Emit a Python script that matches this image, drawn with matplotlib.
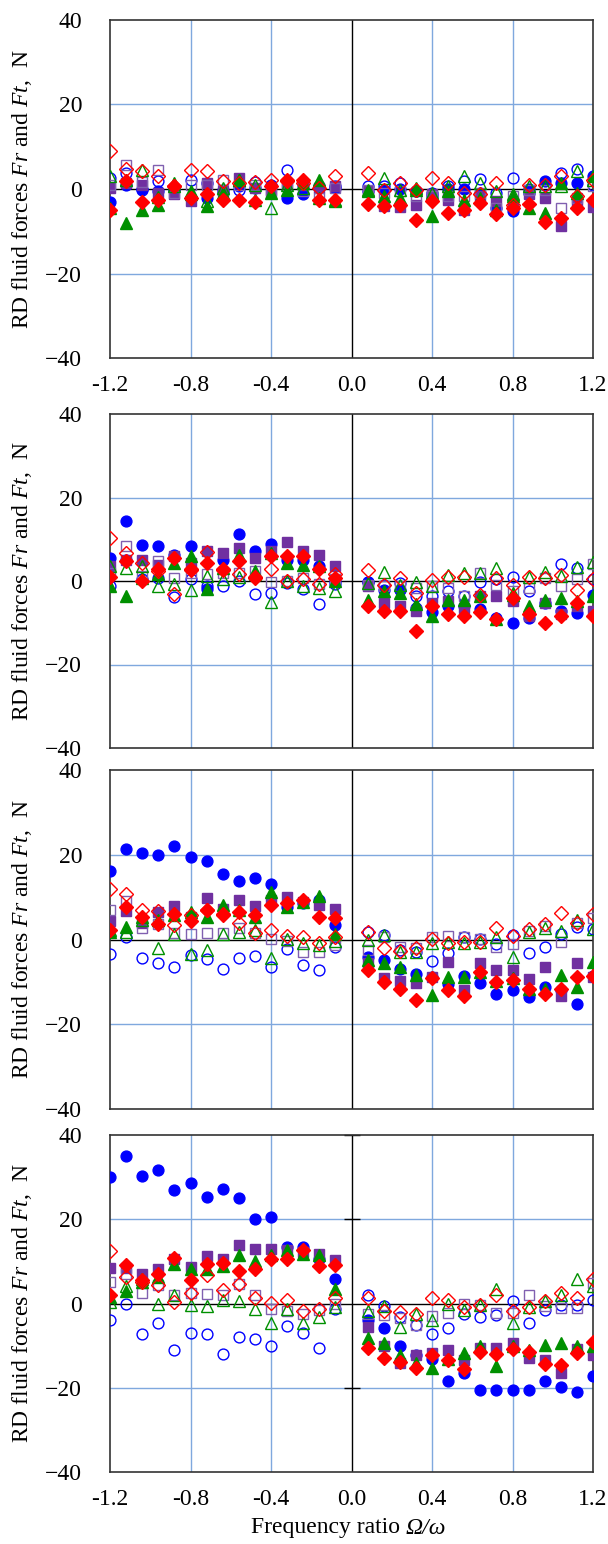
import matplotlib
matplotlib.use("Agg")
import matplotlib.pyplot as plt

plt.rcParams['font.family'] = ['Liberation Serif', 'DejaVu Serif']
plt.rcParams['mathtext.fontset'] = 'custom'
plt.rcParams['mathtext.rm'] = 'Liberation Serif'
plt.rcParams['mathtext.it'] = 'Liberation Serif:italic'

# frequency ratio (x) shared by every series
ratio = [-1.2, -1.12, -1.04, -0.96, -0.88, -0.8, -0.72, -0.64, -0.56, -0.48,
         -0.4, -0.32, -0.24, -0.16, -0.08,
         0.08, 0.16, 0.24, 0.32, 0.4, 0.48, 0.56, 0.64, 0.72, 0.8,
         0.88, 0.96, 1.04, 1.12, 1.2]

# ---- panel 1
p1_bf = [-3, 1, 0, -0.5, 0, -2.1, -2.1, -0.9, 0.8, 0.2, 0.6, -2.1, -1.3, 0.2, 0.2,
         -0.5, -0.2, 0, -0.5, -1, 0, 0, -1, -4.5, -5.3, 0, 1.8, 1.4, 1.4, 3]
p1_bo = [2.5, 3.8, -0.2, 1.8, -0.2, 2.2, 1.4, -0.2, -0.2, 1.6, 1, 4.6, 1, 0.6, 0.6,
         0.8, 0.6, 1.4, -0.5, -1.7, 0.6, 1.8, 2.4, -1, 2.6, -1, 1, 3.8, 4.7, 1]
p1_rf = [-5, 1.8, -3.1, -2.5, 0.6, -2.1, -1.3, -2.5, -2.5, -3.1, 0.6, 1.8, 2.2, -2.5, -2.5,
         -3.5, -4.1, -3.7, -7.4, -2.9, -5.7, -4.9, -3.3, -6, -4.5, -3.5, -7.9, -6.9, -4.5, -2.5]
p1_ro = [9, 4.7, 4.2, 3, 0.6, 4.4, 4.2, 1.8, 1.4, 1.6, 2.2, 2.2, 1.4, 0.2, 3.1,
         3.8, -0.2, 1.4, -0.2, 2.6, 1.4, -1, -1.3, 1.4, -3.7, 1, 1, 3, -1.7, 2.2]
p1_gf = [-4.5, -8, -4.9, -3.7, 1.4, -0.5, -4.1, -0.9, 2.2, -2.5, -0.9, -0.2, 1.4, 2.2, -2.5,
         -0.5, -1.7, -2.1, -0.2, -6.5, -0.5, -2.5, -2.1, -4.9, -1.7, -4.5, -5.7, 1.4, -1, 3]
p1_go = [3, 2.2, 4.6, -2, 0.6, -1.3, -2.9, 0.2, 2.2, 1, -4.5, 1, 0.2, -2.1, -2.9,
         -0.2, 2.6, -0.2, 0.2, -0.9, 0.6, 3, 1.4, -0.5, -1.3, 0.6, 0.6, 0.6, 4.2, 2.2]
p1_pf = [0.2, 1.4, 1, -1, -1.3, -2.9, 1.4, -0.5, 2.6, 0.2, -0.2, 1.4, 1, 0.2, 0.8,
         -0.5, -4.1, -4.3, -3.7, -1.3, -2.5, -4.9, -1.7, -2.9, -3.3, -1.3, -2.1, -8.8, -3.3, -4.3]
p1_po = [1, 5.7, 1.6, 4.6, -1, 1, 1, 2.2, 1, 1, -1, 1, -0.5, -2.1, 0.2,
         -0.2, -1, -0.5, -1.7, -1.7, -1.7, -1.7, -1, -4.5, -1.7, -0.2, -0.2, -4.5, -2.1, 0.6]

# ---- panel 2
p2_bf = [5.4, 14.3, 8.7, 8.3, 6.3, 8.4, -1.8, 5, 11.3, 7.3, 8.9, 5.1, 5.1, 3.7, 0,
         -0.2, -2.1, -2.1, -6.5, -7.5, -6.1, -6.1, -6.7, -8.9, -10, -8.8, -5.3, -7.2, -7.6, -3.3]
p2_bo = [-1.2, 5, 0.4, 0.8, -3.9, 0.4, -1.2, -1.2, 0, -3, -2.8, -0.5, -1.8, -5.4, -0.8,
         -0.2, -0.9, -0.5, -3.7, -3.7, -2.5, -3.7, -0.2, 0.4, 0.9, -2.5, 0.6, 4, 3, 0.4]
p2_rf = [1, 4.7, 0, 2.8, 5.4, 2.9, 4.3, 2.8, 4.7, 1, 5.9, 5.9, 6.1, 2.8, 0.6,
         -6.1, -7.2, -7.2, -12, -6.1, -8, -8.4, -7.5, -9, -4, -8, -10, -8.4, -5.3, -8.4]
p2_ro = [10.4, 6.7, 4.3, 2.4, -3, 2.7, 6.9, 2.7, 1.6, 0.8, 2.8, 0, 0.4, -0.8, 1.6,
         2.6, -0.9, 0.6, -2.9, 0.2, 0.9, 0.9, -3.3, 0.6, -0.9, 0.9, 0.6, 1.4, -2.1, 0.4]
p2_gf = [-1.2, -3.5, 0.8, 1.6, 4.3, 6.1, -1.8, 3.1, 6.3, 2.4, 6.7, 4.3, 3.9, 3.5, 0,
         -4.5, -2.5, -2.9, -5.5, -8.3, -4.5, -4.5, -3.5, -9, -3.3, -6, -4.5, -4.1, -4.8, -3.7]
p2_go = [3.5, 3.1, 3.5, -1.3, -0.6, -2.2, 1.3, 0.4, 1, 1.6, -5.1, 0, -1.2, -1.6, -2.4,
         -0.5, 2.2, -0.9, -0.2, -1.2, 1.4, 1.8, 1.8, 3, -2.9, 0.9, 2.2, 1.2, 3.4, 4.6]
p2_pf = [3.5, 5.1, 5.1, 3.9, 5.9, 4.3, 7.1, 6.7, 7.9, 5.5, 7.1, 9.4, 7.1, 6.3, 3.7,
         -1.3, -5.3, -6.1, -7.2, -5.3, -4.9, -6.5, -3.7, -3.7, -4.9, -8.5, -5.3, -8, -6.1, -7.2]
p2_po = [2, 8.3, 1.3, 4.7, 0.8, 2, 1.6, 2, 1.8, 2.4, -0.2, 0, 0.6, -0.8, 0.4,
         -0.9, -1.3, -1.3, -1.7, -1.2, -1.7, -3.7, 1.8, -0.9, -2.5, -1.7, 0.6, -1.3, 0.4, 4]

# ---- panel 3
p3_bf = [16.2, 21.3, 20.5, 20, 22, 19.5, 18.6, 15.4, 13.9, 14.4, 13, 7.7, 8.5, 9.3, 3.4,
         -4.1, -4.9, -6.9, -8.2, -8.8, -10.4, -8.5, -10.2, -12.8, -12, -13.5, -11.2, -11.8, -15.3, -8.5]
p3_bo = [-3.5, 0.5, -4.3, -5.5, -6.5, -3.7, -4.5, -7, -4.3, -3.9, -6.5, -2.3, -6.1, -7.2, -1.7,
         1.8, 1, -2.4, -2.9, -5, -3.1, 0.6, 0.2, -1, 1, -3.1, -1.7, 1.4, 3, 2.4]
p3_rf = [2.2, 7.7, 5.2, 3.6, 6.1, 4.3, 6.9, 6.1, 6.5, 5.7, 8.1, 8.7, 9.4, 5.2, 5,
         -7.1, -10, -11.6, -14.2, -9.2, -11.8, -13.4, -7.6, -10, -9.6, -11.6, -12.8, -11.6, -8.8, -8.7]
p3_ro = [12, 10.7, 6.9, 6.7, 3.5, 5.7, 6.9, 5.7, 3.9, 1.6, 2.2, 0.8, 0.5, -0.8, 0.5,
         1.8, -2.1, -2.7, -2.1, 0.2, -0.8, -0.5, -0.5, 2.8, 0.8, 2.4, 3.6, 6.3, 3.9, 6.1]
p3_gf = [1.8, 3, 5.4, 4.5, 5.8, 6.5, 5.2, 8.1, 6.9, 5.4, 11.3, 7.7, 8.9, 10.2, 1.3,
         -4.8, -5.5, -6.6, -8.4, -13.1, -8.8, -8.8, -7.6, -9.8, -9.2, -11.6, -11.6, -8.4, -11.2, -5.3]
p3_go = [2.2, 1.8, 4.6, -1.9, 1.2, -3.5, -2.4, 1.3, 1.8, 2.2, -4.3, 0.2, -0.9, -1.3, -0.4,
         0, 1, -2.9, -2.9, -0.9, -0.5, -0.8, -0.5, 0.6, -4.1, 1.8, 2.6, 2, 4.6, 2.4]
p3_pf = [4.4, 6.8, 4, 6.5, 7.9, 5.2, 9.9, 7.1, 9.4, 7.9, 9.3, 10, 8.9, 8.1, 7.2,
         -5.5, -9.2, -9.8, -10.2, -8.8, -5.3, -12, -5.5, -7.2, -7.2, -9.4, -6.5, -13.4, -5.5, -8.8]
p3_po = [6.9, 9.1, 2.6, 3.6, 1.6, 1.2, 1.6, 1.6, 2.8, 1.6, 0.2, -0.3, -2.9, -2.9, -1.3,
         -2.4, 0.6, -1.7, -2.1, 0.6, 0.8, 0.6, 0.2, -1.7, -1, 2, 3.1, -0.6, 3.9, 5]

# ---- panel 4
p4_bf = [30.1, 35, 30.3, 31.7, 26.9, 28.5, 25.4, 27.2, 25, 20.1, 20.6, 13.5, 13.5, 10.6, 5.7,
         -3.8, -5.7, -10.2, -12.2, -13.2, -18.3, -16.4, -20.5, -20.5, -20.5, -20.5, -18.5, -19.8, -21.1, -17.2]
p4_bo = [-3.9, 0, -7.3, -4.6, -11, -6.9, -7.3, -12, -8, -8.4, -10, -5.4, -6.9, -10.5, -1.2,
         2, -0.6, -3.1, -5.1, -7.2, -5.7, -2.4, -3.3, -2.8, 0.6, -4.7, -1.6, -0.3, -0.3, 0.9]
p4_rf = [2, 9.1, 5.5, 7.1, 10.9, 5.5, 9.4, 9.6, 7.6, 8.3, 10.5, 10.5, 12.6, 8.8, 9.1,
         -10.6, -13, -13.8, -15.4, -12.2, -13.5, -15.6, -11.4, -12, -10.9, -11.4, -14.3, -14.6, -11.7, -9.1]
p4_ro = [12.4, 6.3, 5.1, 4.3, 0.4, 2.5, 6.7, 3.1, 4.6, 1.4, 0.2, 0.8, -1.7, -1.2, 1.2,
         1.4, -1.7, -2, -2.4, 1.4, 0.9, -0.8, -0.4, 2.1, -1.7, -0.9, 0.6, 2.4, 1.4, 5.7]
p4_gf = [1.6, 3, 5.1, 6.3, 9.3, 8.3, 8.3, 8.9, 11.4, 10.2, 11.4, 12.6, 11.8, 11.4, 3.5,
         -8.3, -9.4, -12.2, -14.2, -15.4, -13.2, -11.7, -10.2, -14.8, -10.2, -11, -9.8, -9.3, -10, -10.2]
p4_go = [0.4, 4.2, 5.9, 0, 2, -0.4, -0.6, 0.8, 0.6, -1.2, -4.6, -1.2, -4.7, -3.1, -0.8,
         -1.7, -0.6, -5.5, -2.4, -3.9, 0, -1.6, -0.4, 3.5, -4.7, -0.9, 0.6, 2, 5.9, 4.1]
p4_pf = [8.5, 8.5, 7.1, 8.3, 10.6, 8.7, 11.2, 10.6, 13.9, 13, 13, 12.6, 12.2, 11.8, 10.4,
         -5.5, -10.1, -14.2, -12.2, -11.8, -11, -13.4, -10.6, -10.6, -9.3, -13, -13.4, -16.5, -10.9, -12.2]
p4_po = [5.1, 7, 2.4, 4.3, 2.1, 2.4, 2.2, 2, 4.6, 2, -1.4, -1.8, -2.5, -1.6, 0,
         -2.5, -2.8, -3.5, -5.1, -3, -2.2, -0.2, -0.4, -2.2, -2.3, 2.1, -0.6, -1, -1, 4.9]

yticks = [-40, -20, 0, 20, 40]
xticks = [-1.2, -0.8, -0.4, 0.0, 0.4, 0.8, 1.2]

panels = [
    [p1_bf, p1_bo, p1_pf, p1_po, p1_gf, p1_go, p1_rf, p1_ro],
    [p2_bf, p2_bo, p2_pf, p2_po, p2_gf, p2_go, p2_rf, p2_ro],
    [p3_bf, p3_bo, p3_pf, p3_po, p3_gf, p3_go, p3_rf, p3_ro],
    [p4_bf, p4_bo, p4_pf, p4_po, p4_gf, p4_go, p4_rf, p4_ro],
]
# marker, colour, filled, size  (same order as in panels)
styles = [('o', '#0000FF', True, 7.8), ('o', '#0000FF', False, 7.8),
          ('s', '#7030A0', True, 7.2), ('s', '#8060B0', False, 7.2),
          ('^', '#009000', True, 8.6), ('^', '#009000', False, 8.6),
          ('D', '#FF0000', True, 7.0), ('D', '#FF0000', False, 7.0)]

# pixel boxes (top, height) of the four plot areas
boxes = [(20, 338), (414, 334), (770, 339), (1135, 337)]

W, H = 608, 1544
fig = plt.figure(figsize=(W / 100, H / 100), dpi=100)
grid_c = '#7FA8DE'
fs = 17

for i, (series, (top, h)) in enumerate(zip(panels, boxes)):
    ax = fig.add_axes([110 / W, 1 - (top + h) / H, 483 / W, h / H])
    ax.set_xlim(-1.2, 1.2)
    ax.set_ylim(-40, 40)
    for v in [-0.8, -0.4, 0.4, 0.8]:
        ax.axvline(v, color=grid_c, lw=1, zorder=0)
    for v in [-20, 20]:
        ax.axhline(v, color=grid_c, lw=1, zorder=0)
    ax.axvline(0, color='black', lw=1, zorder=1)
    ax.axhline(0, color='black', lw=1, zorder=1)
    for vals, (m, c, filled, ms) in zip(series, styles):
        ax.plot(ratio, vals, ls='none', marker=m, ms=ms,
                mfc=c if filled else 'none', mec=c, mew=1.0, zorder=3)
    if i == 3:
        ax.plot([0, 0, 0], [-20, 20, 40], ls='none', marker='_', ms=12,
                color='black', mew=1, zorder=2, clip_on=False)
    ax.set_yticks(yticks)
    ax.set_xticks(xticks)
    ax.set_xticklabels(['%.1f' % t for t in xticks])
    ax.tick_params(length=0, labelsize=fs)
    ax.tick_params(axis='y', pad=20)
    ax.tick_params(axis='x', pad=12)
    if i in (1, 2):
        ax.tick_params(axis='x', labelbottom=False)
    for s in ax.spines.values():
        s.set_color('#333333')
        s.set_linewidth(1.2)
    fig.text(22 / W, 1 - (top + h / 2) / H,
             r'RD fluid forces $\mathit{Fr}$ and $\mathit{Ft}$,  N',
             rotation=90, ha='center', va='center', fontsize=fs)

# x-axis title: plain part + italic Greek part
fig.text(400 / W, 1 - 1528 / H, 'Frequency ratio',
         ha='right', va='center', fontsize=fs)
fig.text(405 / W, 1 - 1528 / H, 'Ω/ω', fontstyle='italic',
         ha='left', va='center', fontsize=fs)

fig.savefig('out.png', dpi=100)
